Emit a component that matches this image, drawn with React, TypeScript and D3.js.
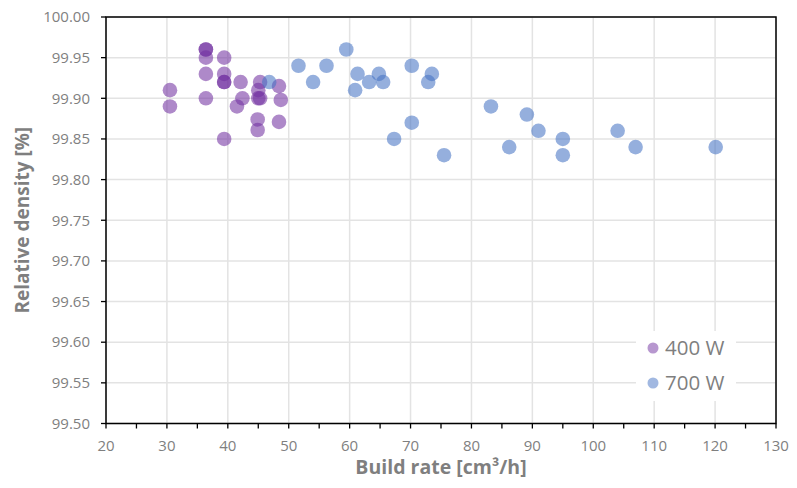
import React from "react";
import * as d3 from "d3";

const xTickValues = [20, 30, 40, 50, 60, 70, 80, 90, 100, 110, 120, 130];
const xMinorTickValues = [25, 35, 45, 55, 65, 75, 85, 95, 105, 115, 125];
const yTickValues = [99.5, 99.55, 99.6, 99.65, 99.7, 99.75, 99.8, 99.85, 99.9, 99.95, 100.0];

const seriesNames = ["400 W", "700 W"];
const seriesColors = ["#7030A0", "#4472C4"];

const w400X = [30.5, 30.5, 36.4, 36.4, 36.4, 36.4, 36.4, 39.4, 39.4, 39.4, 39.4, 39.4, 42.1, 42.4, 41.5, 45.3, 45.0, 45.0, 45.3, 44.9, 44.9, 48.4, 48.7, 48.4];
const w400Y = [99.91, 99.89, 99.96, 99.96, 99.95, 99.93, 99.9, 99.95, 99.93, 99.92, 99.92, 99.85, 99.92, 99.9, 99.89, 99.92, 99.91, 99.9, 99.9, 99.874, 99.861, 99.915, 99.898, 99.871];

const w700X = [46.8, 51.6, 54.0, 56.2, 59.45, 61.3, 60.9, 63.2, 64.8, 65.5, 70.2, 73.5, 72.9, 70.2, 67.3, 75.5, 83.2, 89.1, 91.0, 86.2, 95.0, 95.0, 104.0, 106.95, 120.1];
const w700Y = [99.92, 99.94, 99.92, 99.94, 99.96, 99.93, 99.91, 99.92, 99.93, 99.92, 99.94, 99.93, 99.92, 99.87, 99.85, 99.83, 99.89, 99.88, 99.86, 99.84, 99.85, 99.83, 99.86, 99.84, 99.84];

const W = 797;
const H = 488;
const left = 106;
const right = 776;
const top = 17;
const bottom = 423.5;
const FONT = "Open Sans, sans-serif";

export default function App() {
  const x = d3.scaleLinear().domain([20, 130]).range([left, right]);
  const y = d3.scaleLinear().domain([99.5, 100]).range([bottom, top]);
  const series = [
    { name: seriesNames[0], color: seriesColors[0], xs: w400X, ys: w400Y },
    { name: seriesNames[1], color: seriesColors[1], xs: w700X, ys: w700Y },
  ];
  const fmt = d3.format(".2f");
  return (
    <svg
      width={W}
      height={H}
      style={{ position: "absolute", left: 0, top: 0, background: "#fff" }}
      fontFamily={FONT}
    >
      <rect x={0} y={0} width={W} height={H} fill="#fff" />
      {xTickValues.map((t) => (
        <line key={"gx" + t} x1={x(t)} x2={x(t)} y1={top} y2={bottom} stroke="#e3e3e3" strokeWidth={1.5} />
      ))}
      {yTickValues.map((t) => (
        <line key={"gy" + t} x1={left} x2={right} y1={y(t)} y2={y(t)} stroke="#e3e3e3" strokeWidth={1.5} />
      ))}
      {/* legend background */}
      <rect x={636} y={331} width={100} height={70} fill="#fff" />
      {series.map((s) => (
        <g key={s.name}>
          {s.xs.map((xv, i) => (
            <circle key={i} cx={x(xv)} cy={y(s.ys[i])} r={7.3} fill={s.color} fillOpacity={0.57} />
          ))}
        </g>
      ))}
      {/* frame */}
      <rect x={left} y={top} width={right - left} height={bottom - top} fill="none" stroke="#000" strokeWidth={1.5} />
      {xTickValues.map((t) => (
        <line key={"tx" + t} x1={x(t)} x2={x(t)} y1={bottom} y2={bottom + 5} stroke="#000" strokeWidth={1.3} />
      ))}
      {xMinorTickValues.map((t) => (
        <line key={"mx" + t} x1={x(t)} x2={x(t)} y1={bottom} y2={bottom + 5} stroke="#000" strokeWidth={1.3} />
      ))}
      {yTickValues.map((t) => (
        <line key={"ty" + t} x1={left - 5} x2={left} y1={y(t)} y2={y(t)} stroke="#000" strokeWidth={1.3} />
      ))}
      {xTickValues.map((t) => (
        <text key={"lx" + t} x={x(t)} y={bottom + 27} textAnchor="middle" fontSize={15} fill="#7f7f7f">
          {t}
        </text>
      ))}
      {yTickValues.map((t) => (
        <text key={"ly" + t} x={left - 16} y={y(t)} dy="0.35em" textAnchor="end" fontSize={15} fill="#7f7f7f">
          {fmt(t)}
        </text>
      ))}
      <text x={(left + right) / 2} y={474} textAnchor="middle" fontSize={19.5} fontWeight="bold" fill="#7f7f7f">
        Build rate [cm³/h]
      </text>
      <text
        transform={`translate(29,${(top + bottom) / 2}) rotate(-90)`}
        textAnchor="middle"
        fontSize={19}
        fontWeight="bold"
        fill="#7f7f7f"
      >
        Relative density [%]
      </text>
      {series.map((s, i) => (
        <g key={"leg" + s.name} transform={`translate(653,${348 + i * 35})`}>
          <circle cx={0} cy={0} r={5.5} fill={s.color} fillOpacity={0.5} />
          <text x={12} y={0} dy="0.36em" fontSize={20.5} fill="#7f7f7f">
            {s.name}
          </text>
        </g>
      ))}
    </svg>
  );
}
